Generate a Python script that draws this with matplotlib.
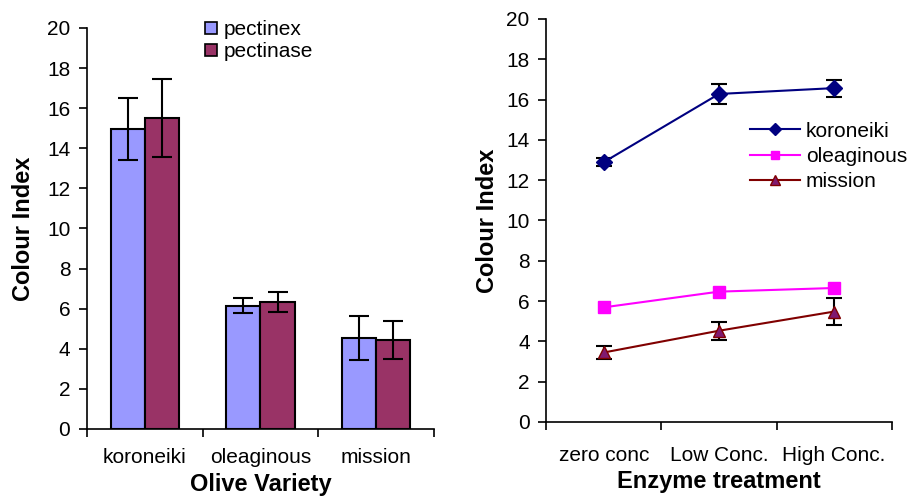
import matplotlib
matplotlib.use("Agg")
import matplotlib.pyplot as plt
from matplotlib.lines import Line2D
import numpy as np

plt.rcParams['font.family'] = ['Liberation Sans', 'DejaVu Sans']

# ---- data: left chart ----
varieties = ["koroneiki", "oleaginous", "mission"]
pectinex = [14.95, 6.15, 4.52]
pectinex_err = [1.55, 0.38, 1.1]
pectinase = [15.53, 6.35, 4.42]
pectinase_err = [1.95, 0.5, 0.95]

# ---- data: right chart ----
treatments = ["zero conc", "Low Conc.", "High Conc."]
koroneiki = [12.9, 16.28, 16.57]
koroneiki_err = [0.2, 0.48, 0.42]
oleaginous = [5.69, 6.47, 6.65]
mission = [3.45, 4.53, 5.48]
mission_err = [0.33, 0.44, 0.67]

fig = plt.figure(figsize=(9.09, 4.96), dpi=100)

TICK_FS = 15
LEG_FS = 15
LABEL_FS = 17

def style_axes(ax, n):
    for s in ["top", "right"]:
        ax.spines[s].set_visible(False)
    for s in ["left", "bottom"]:
        ax.spines[s].set_linewidth(1.2)
    ax.set_xlim(-0.5, n - 0.5)
    ax.set_ylim(0, 20)
    ax.set_yticks(np.arange(0, 21, 2))
    ax.set_xticks(np.arange(n))
    ax.set_xticks(np.arange(n + 1) - 0.5, minor=True)
    ax.tick_params(axis="x", which="major", length=0, pad=14, labelsize=TICK_FS)
    ax.tick_params(axis="x", which="minor", length=6, width=1.2, direction="out")
    ax.tick_params(axis="y", length=6, width=1.2, direction="out", pad=6, labelsize=TICK_FS)

# ---- left chart ----
ax1 = fig.add_axes([0.0957, 0.1351, 0.3817, 0.8085])
x = np.arange(len(varieties))
w = 0.295
ax1.bar(x - w / 2, pectinex, w, color="#9999FF", edgecolor="black", linewidth=1.5,
        yerr=pectinex_err, error_kw=dict(ecolor="black", elinewidth=1.5, capsize=7, capthick=1.5),
        zorder=2)
ax1.bar(x + w / 2, pectinase, w, color="#993366", edgecolor="black", linewidth=1.5,
        yerr=pectinase_err, error_kw=dict(ecolor="black", elinewidth=1.5, capsize=7, capthick=1.5),
        zorder=2)
style_axes(ax1, len(varieties))
ax1.set_xticklabels(varieties)
ax1.set_ylabel("Colour Index", fontsize=LABEL_FS, fontweight="bold", labelpad=8.5)
ax1.set_xlabel("Olive Variety", fontsize=LABEL_FS, fontweight="bold", labelpad=4)
h1 = [Line2D([], [], marker="s", linestyle="none", markersize=8, markerfacecolor="#9999FF",
             markeredgecolor="black", markeredgewidth=1.2),
      Line2D([], [], marker="s", linestyle="none", markersize=8, markerfacecolor="#993366",
             markeredgecolor="black", markeredgewidth=1.2)]
ax1.legend(h1, ["pectinex", "pectinase"], loc="upper left", bbox_to_anchor=(0.34, 1.02),
           frameon=False, fontsize=LEG_FS, handlelength=0.6, handletextpad=0.28,
           labelspacing=0.15, borderaxespad=0, borderpad=0)

# ---- right chart ----
ax2 = fig.add_axes([0.601, 0.1492, 0.380, 0.8125])
xt = np.arange(len(treatments))
ax2.errorbar(xt, koroneiki, yerr=koroneiki_err, color="#000080", marker="D", markersize=8,
             linewidth=1.5, ecolor="black", elinewidth=1.5, capsize=5.5, capthick=1.5,
             label="koroneiki", zorder=3)
ax2.plot(xt, oleaginous, color="#FF00FF", marker="s", markersize=8, linewidth=1.5,
         label="oleaginous", zorder=3)
ax2.errorbar(xt, mission, yerr=mission_err, color="#800000", marker="^", markersize=8,
             markerfacecolor="#801a70", linewidth=1.5, ecolor="black", elinewidth=1.5,
             capsize=5.5, capthick=1.5, label="mission", zorder=3)
style_axes(ax2, len(treatments))
ax2.set_xticklabels(treatments)
ax2.tick_params(axis="x", which="major", pad=17)
ax2.set_ylabel("Colour Index", fontsize=LABEL_FS, fontweight="bold", labelpad=5.5)
ax2.set_xlabel("Enzyme treatment", fontsize=LABEL_FS, fontweight="bold", labelpad=4)
h2 = [Line2D([], [], color="#000080", marker="D", markersize=6, linewidth=1.5),
      Line2D([], [], color="#FF00FF", marker="s", markersize=6, linewidth=1.5),
      Line2D([], [], color="#800000", marker="^", markersize=7, markerfacecolor="#801a70",
             linewidth=1.5)]
ax2.legend(h2, ["koroneiki", "oleaginous", "mission"], loc="upper left",
           bbox_to_anchor=(0.589, 0.745), frameon=False, fontsize=LEG_FS,
           handlelength=2.4, handletextpad=0.29, labelspacing=0.29, borderaxespad=0,
           borderpad=0)

fig.savefig("out.png", dpi=100)
